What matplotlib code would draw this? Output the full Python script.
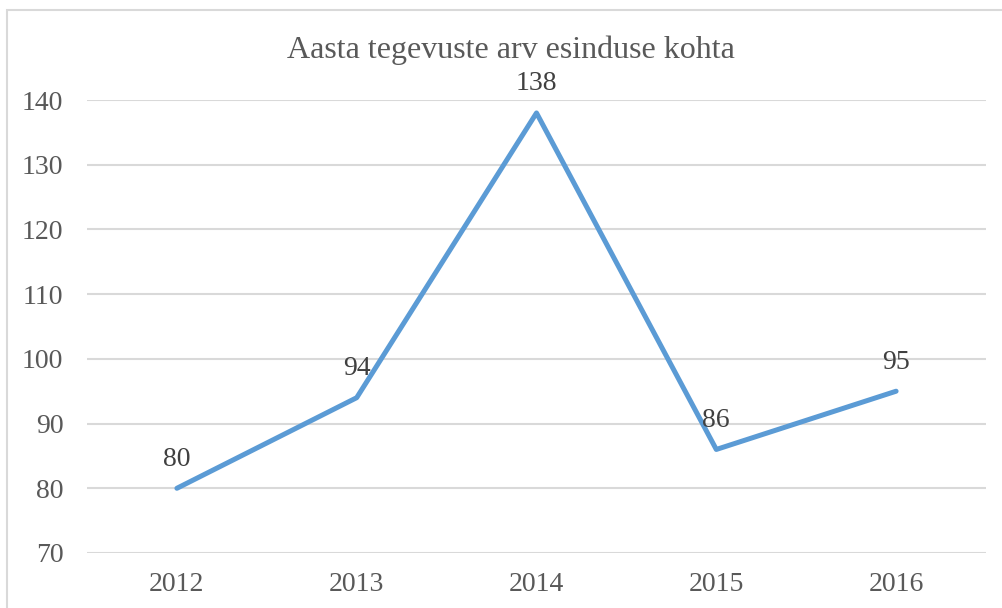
import matplotlib.pyplot as plt
from matplotlib.patches import Rectangle

years = ["2012", "2013", "2014", "2015", "2016"]
counts = [80, 94, 138, 86, 95]
y_ticks = [70, 80, 90, 100, 110, 120, 130, 140]

W, H = 1002, 608
plt.rcParams["font.family"] = ["Liberation Serif", "DejaVu Serif"]

fig = plt.figure(figsize=(W / 100, H / 100), dpi=100)
ax = fig.add_axes([87 / W, 1 - 553 / H, (986 - 87) / W, (553 - 100) / H])

x = range(len(years))
ax.plot(x, counts, color="#5B9BD5", lw=3.6, solid_capstyle="round", zorder=3)
for xi, v in zip(x, counts):
    ax.annotate(str(v), (xi, v), xytext=(0, 12), textcoords="offset points",
                ha="center", va="bottom", fontsize=20, color="#404040")

ax.set_xlim(-0.5, len(years) - 0.5)
ax.set_ylim(70, 140)
ax.set_yticks(y_ticks)
ax.set_xticks(list(x))
ax.set_xticklabels(years)
ax.tick_params(length=0, labelsize=20, labelcolor="#595959")
ax.tick_params(axis="y", pad=17)
ax.tick_params(axis="x", pad=14)
ax.grid(axis="y", color="#D9D9D9", lw=1.5)
ax.set_axisbelow(True)
for s in ax.spines.values():
    s.set_visible(False)

fig.text(511 / W, 1 - 50 / H, "Aasta tegevuste arv esinduse kohta",
         ha="center", va="center", fontsize=23, color="#595959")

# chart frame: only left and top edges fall inside the picture
fig.patches.append(Rectangle((7 / W, -0.1), 1.1, 1.1 - 10 / H,
                             transform=fig.transFigure, fill=False,
                             edgecolor="#D9D9D9", lw=1.5))

fig.savefig("out.png", dpi=100)
